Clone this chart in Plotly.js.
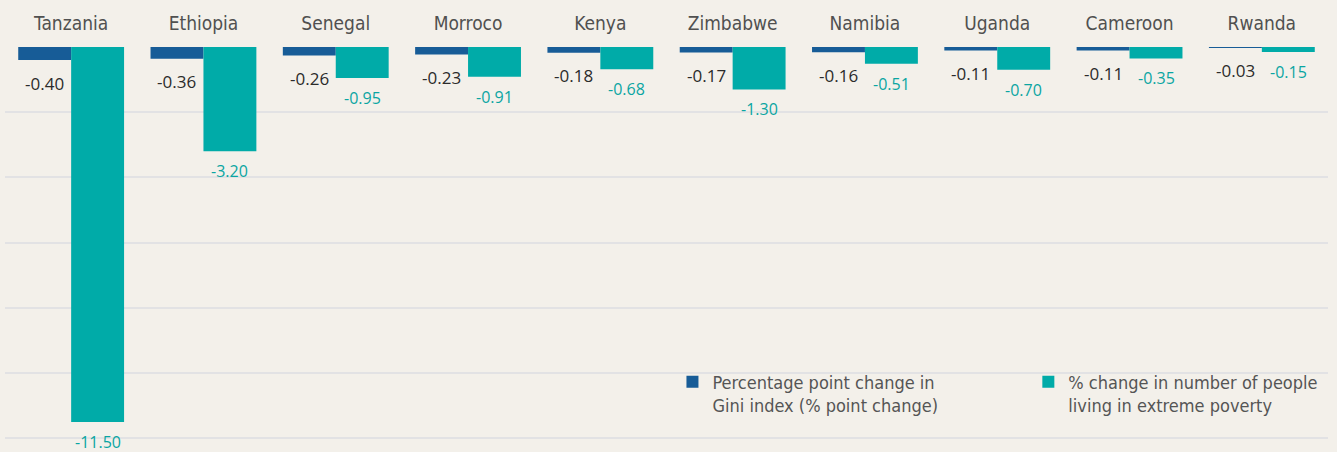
<!DOCTYPE html>
<html>
<head>
<meta charset="utf-8">
<script src="https://cdn.plot.ly/plotly-3.0.1.min.js"></script>
<style>
  html, body { margin: 0; padding: 0; background: #f3f0ea; }
  #chart { width: 1337px; height: 452px; }
</style>
</head>
<body>
<div id="chart"></div>
<script>
const countries = ['Tanzania', 'Ethiopia', 'Senegal', 'Morroco', 'Kenya', 'Zimbabwe', 'Namibia', 'Uganda', 'Cameroon', 'Rwanda'];
const giniChange = [-0.40, -0.36, -0.26, -0.23, -0.18, -0.17, -0.16, -0.11, -0.11, -0.03];
const povertyChange = [-11.50, -3.20, -0.95, -0.91, -0.68, -1.30, -0.51, -0.70, -0.35, -0.15];
const seriesNames = ['Percentage point change in<br>Gini index (% point change)', '% change in number of people<br>living in extreme poverty'];

const BLUE = '#175c97';
const TEAL = '#00aba8';
const BG = '#f3f0ea';
const NARROW = '"DejaVu Sans Condensed", "Liberation Sans Narrow", "Roboto", sans-serif';
const LABELFONT = '"Open Sans", "Noto Sans", sans-serif';

const W = 1337, H = 452;
const margin = {l: 5, r: 9, t: 47, b: 3};
const plotW = W - margin.l - margin.r;
const bargap = 0.2;
const barOffset = plotW / countries.length * (1 - bargap) / 4;

const traces = [
  {type: 'bar', name: seriesNames[0], x: countries, y: giniChange, marker: {color: BLUE}, hoverinfo: 'x+y', legend: 'legend'},
  {type: 'bar', name: seriesNames[1], x: countries, y: povertyChange, marker: {color: TEAL}, hoverinfo: 'x+y', legend: 'legend2'}
];

const annotations = [];
countries.forEach((c, i) => {
  annotations.push({x: c, y: giniChange[i], xref: 'x', yref: 'y', text: giniChange[i].toFixed(2),
    showarrow: false, xshift: -barOffset, yshift: -23, yanchor: 'middle', xanchor: 'center',
    font: {family: LABELFONT, size: 17, color: '#2b2b2b'}});
  annotations.push({x: c, y: povertyChange[i], xref: 'x', yref: 'y', text: povertyChange[i].toFixed(2),
    showarrow: false, xshift: barOffset, yshift: -20, yanchor: 'middle', xanchor: 'center',
    font: {family: LABELFONT, size: 16, color: '#0aa5a2'}});
});

const legendBase = {
  orientation: 'v', xanchor: 'left', y: 0.2125, yanchor: 'top',
  bgcolor: 'rgba(0,0,0,0)', valign: 'top',
  font: {family: NARROW, size: 18, color: '#555555'}
};

const layout = {
  width: W, height: H,
  margin: margin,
  paper_bgcolor: BG, plot_bgcolor: BG,
  barmode: 'group', bargap: bargap, bargroupgap: 0,
  showlegend: true,
  legend: Object.assign({}, legendBase, {x: 0.5045}),
  legend2: Object.assign({}, legendBase, {x: 0.7735}),
  xaxis: {
    side: 'top', type: 'category', showgrid: false, zeroline: false, showline: false,
    ticks: 'outside', ticklen: 8, tickcolor: 'rgba(0,0,0,0)',
    tickfont: {family: NARROW, size: 19, color: '#505050'}, fixedrange: true
  },
  yaxis: {
    range: [-12.33, 0], dtick: 2, showticklabels: false, showgrid: true,
    gridcolor: '#e2e2e4', gridwidth: 2, zeroline: false, showline: false, fixedrange: true
  },
  annotations: annotations
};

Plotly.newPlot('chart', traces, layout, {displayModeBar: false, staticPlot: true});
</script>
</body>
</html>
